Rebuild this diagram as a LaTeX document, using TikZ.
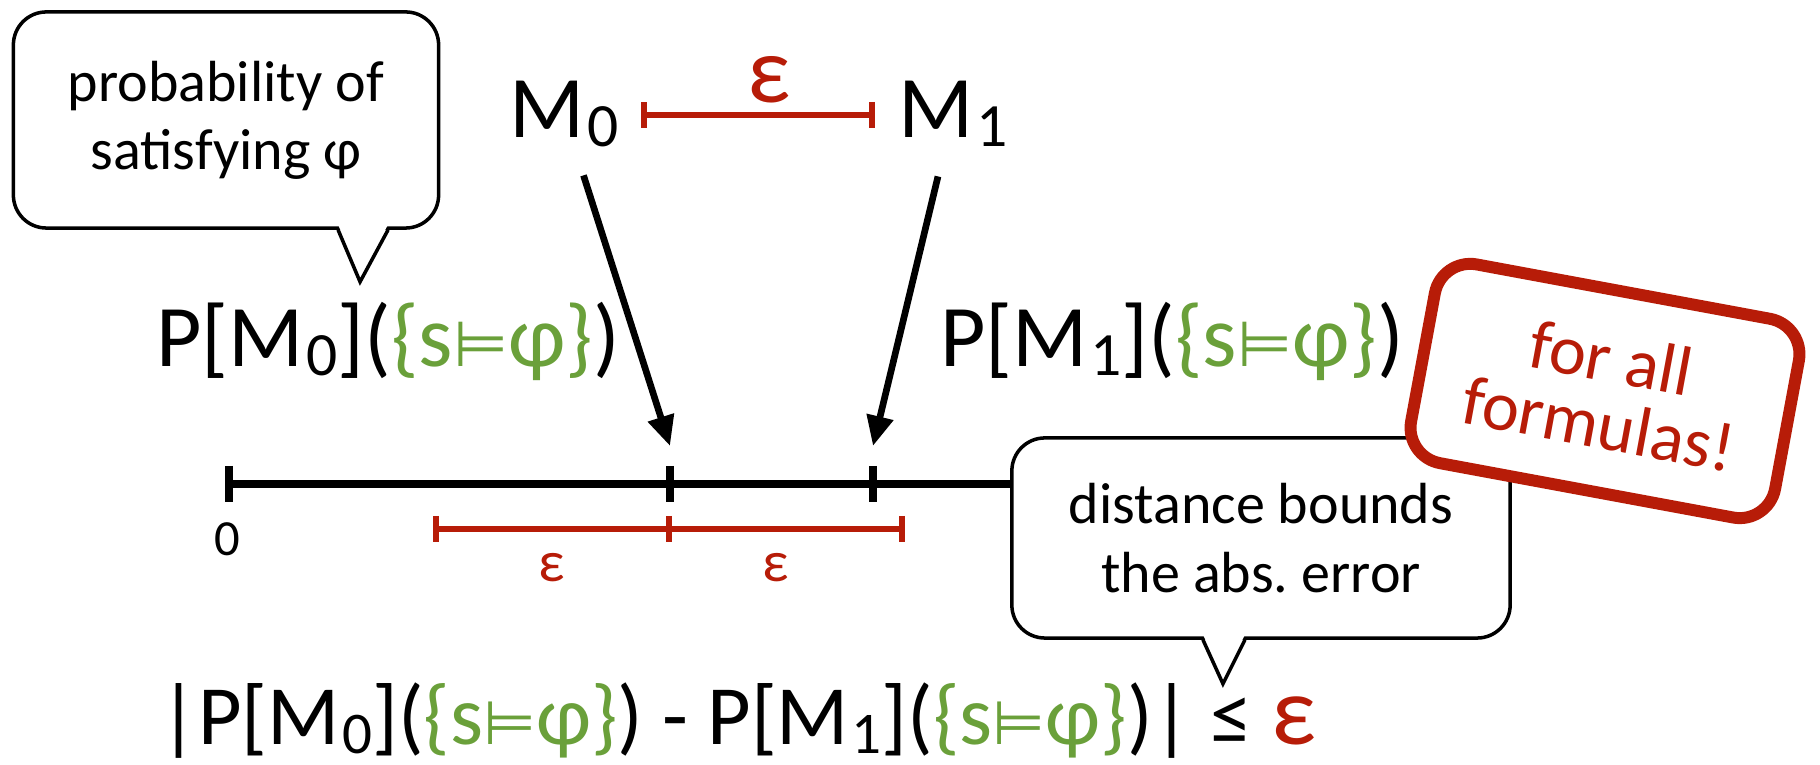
\documentclass[tikz,border=0pt]{standalone}
\usepackage{fontspec}
\setmainfont{Carlito}
\newfontfamily\symfont{DejaVu Sans}[Scale=0.72]
\usetikzlibrary{arrows.meta}
\frenchspacing

\definecolor{epsred}{RGB}{183,28,8}
\definecolor{satgreen}{RGB}{106,160,58}

\newcommand\lowidx[1]{\kern0.03em\raisebox{-0.1em}{\scalebox{0.7}{#1}}}
\newcommand\satset{\textcolor{satgreen}{\{s{\symfont ⊨}φ\}}}

\begin{document}
\begin{tikzpicture}[
  x=0.01cm, y=-0.01cm,
  every node/.style = {inner sep=0pt},
  bubble/.style   = {draw, line width=1pt, fill=white, rounded corners=0.33cm,
                     align=center, font=\fontsize{16.5pt}{19.4pt}\selectfont},
  tail/.style     = {line width=1pt, line join=miter},
  formula/.style  = {anchor=base, font=\fontsize{25pt}{30pt}\selectfont},
  ptr/.style      = {line width=1.9pt, -{Triangle[length=0.3cm, width=0.26cm]},
                     shorten <=0.64cm},
  axisline/.style = {line width=2pt},
  epsbar/.style   = {epsred, line width=1.7pt},
  epslabel/.style = {text=epsred, font=\fontsize{16.5pt}{18pt}\selectfont},
]
\useasboundingbox (0,0) rectangle (1820,765);

% ── Speech bubble: probability ─────────────────────────────────────────────
\node[bubble, minimum width=4.25cm, minimum height=2.16cm] (prob) at (226,120)
  {probability of\\satisfying φ};
\fill[white] ([xshift=1.12cm, yshift=1.5pt]prob.south) -- ++(22,52)
  -- ([xshift=1.62cm, yshift=1.5pt]prob.south) -- cycle;
\draw[tail] ([xshift=1.12cm]prob.south) -- ++(22,52) -- ([xshift=1.62cm]prob.south);

% ── The two models and their distance ─────────────────────────────────────
\node[formula] (m0) at (564,138) {M\lowidx{0}};
\node[formula] (m1) at (953,138) {M\lowidx{1}};
\draw[epsbar, {Bar[width=0.26cm]}-{Bar[width=0.26cm]}] (641,115) -- (875,115);
\node[text=epsred, font=\fontsize{27pt}{28pt}\selectfont] (epstop) at (769,80) {ε};

% ── Probabilities ─────────────────────────────────────────────────────────
\node[formula] (pm0) at (388,367) {P[M\lowidx{0}](\satset)};
\node[formula] (pm1) at (1172,367) {P[M\lowidx{1}](\satset)};

% ── Number line ───────────────────────────────────────────────────────────
\coordinate (zero) at (229,484);
\coordinate (t0)   at (670,484);
\coordinate (t1)   at (873,484);
\draw[axisline] (zero) -- (1100,484);
\foreach \c in {zero, t0, t1}
  \draw[axisline] ([yshift=0.18cm]\c) -- ([yshift=-0.18cm]\c);
\node[font=\fontsize{14.4pt}{16pt}\selectfont] (zlabel) at (227,539) {0};

% arrows from the models onto the line
\coordinate (tip0) at (670,446);
\coordinate (tip1) at (873,446);
\draw[ptr] (m0.center) -- (tip0);
\draw[ptr] (m1.center) -- (tip1);

% ε-neighbourhood of P[M0]
\draw[epsbar] (436,529) -- (902,529);
\foreach \x in {436, 669, 902}
  \draw[epsbar] (\x,516) -- (\x,542);
\node[epslabel] (epsl) at (552,568) {ε};
\node[epslabel] (epsr) at (776,568) {ε};

% ── Speech bubble: distance ───────────────────────────────────────────────
\node[bubble, minimum width=4.98cm, minimum height=2.0cm] (dist) at (1261,538)
  {distance bounds\\the abs. error};
\fill[white] ([xshift=-0.58cm, yshift=1.5pt]dist.south) -- ++(20,44)
  -- ([xshift=-0.16cm, yshift=1.5pt]dist.south) -- cycle;
\draw[tail] ([xshift=-0.58cm]dist.south) -- ++(20,44) -- ([xshift=-0.16cm]dist.south);

% ── Stamp ─────────────────────────────────────────────────────────────────
\node[draw=epsred, line width=3.4pt, fill=white, rounded corners=0.36cm,
      rotate=-10.5, minimum width=3.7cm, minimum height=2.02cm, align=center,
      text=epsred, font=\fontsize{20pt}{19pt}\selectfont] (stamp) at (1605,391)
  {for all\\formulas!};

% ── Error bound ───────────────────────────────────────────────────────────
\node[formula, font=\fontsize{24pt}{28pt}\selectfont] (bound) at (738,745)
  {|P[M\lowidx{0}](\satset) - P[M\lowidx{1}](\satset)| ≤
   \textcolor{epsred}{\fontsize{28pt}{28pt}\selectfont ε}};

\end{tikzpicture}
\end{document}
